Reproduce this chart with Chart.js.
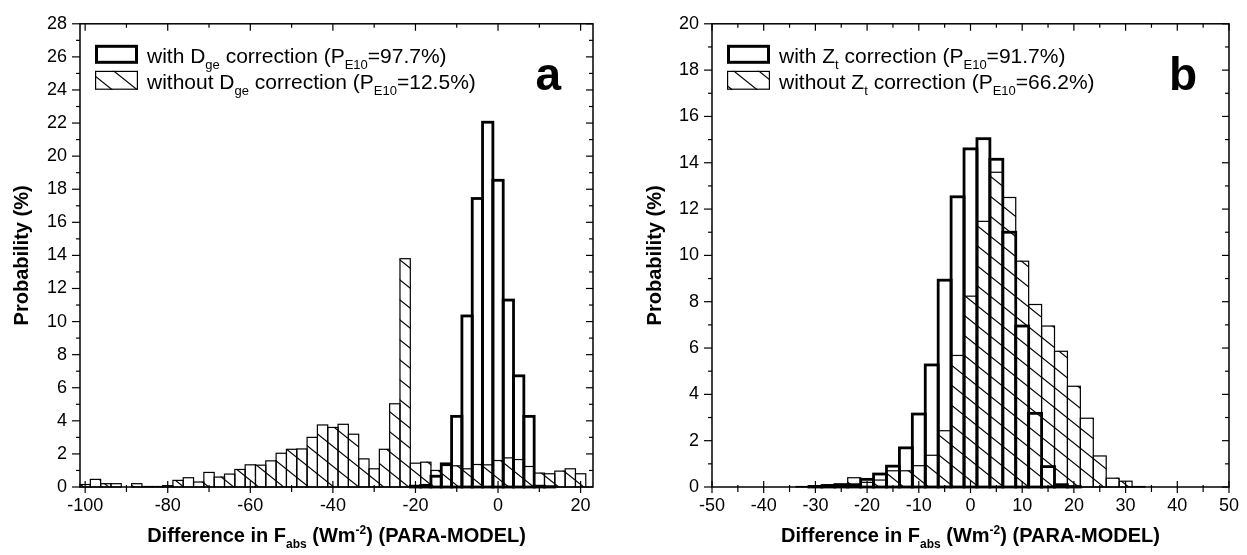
<!DOCTYPE html>
<html>
<head>
<meta charset="utf-8">
<script src="https://cdn.jsdelivr.net/npm/chart.js@4.4.1/dist/chart.umd.min.js"></script>
<style>
  html, body { margin: 0; padding: 0; background: #fff; }
  body { width: 1247px; height: 555px; position: relative; overflow: hidden; }
  .panel { position: absolute; top: 0; height: 555px; }
  #panelA { left: 0; width: 620px; }
  #panelB { left: 620px; width: 627px; }
</style>
</head>
<body>
<div class="panel" id="panelA"><canvas id="chartA"></canvas></div>
<div class="panel" id="panelB"><canvas id="chartB"></canvas></div>
<script>
const FONT = '"Liberation Sans", Arial, Helvetica, sans-serif';

// ---- panel a : bin centres (Wm-2) and probabilities (%)
const binsA = [-100, -97.5, -95, -92.5, -90, -87.5, -85, -82.5, -80, -77.5,
  -75, -72.5, -70, -67.5, -65, -62.5, -60, -57.5, -55, -52.5,
  -50, -47.5, -45, -42.5, -40, -37.5, -35, -32.5, -30, -27.5,
  -25, -22.5, -20, -17.5, -15, -12.5, -10, -7.5, -5, -2.5,
  0, 2.5, 5, 7.5, 10, 12.5, 15, 17.5, 20];
const withDge = [0, 0, 0, 0, 0, 0, 0, 0, 0, 0,
  0, 0, 0, 0, 0, 0, 0, 0, 0, 0,
  0, 0, 0, 0, 0, 0, 0, 0, 0, 0,
  0, 0, 0.05, 0.1, 0.65, 1.4, 4.27, 10.34, 17.44, 22.05,
  18.54, 11.3, 6.72, 4.27, 0.05, 0.02, 0, 0, 0];
const withoutDge = [0.15, 0.46, 0.2, 0.2, 0, 0.2, 0.03, 0.03, 0.08, 0.4,
  0.56, 0.3, 0.88, 0.6, 0.78, 1.06, 1.34, 1.32, 1.58, 2.04,
  2.28, 2.3, 3.0, 3.75, 3.6, 3.79, 3.19, 1.7, 1.1, 2.28,
  5.03, 13.8, 1.44, 1.5, 1.0, 1.3, 1.28, 1.1, 1.36, 1.34,
  1.6, 1.76, 1.66, 1.24, 0.84, 0.8, 0.96, 1.1, 0.8];
const xTicksA = [-100, -80, -60, -40, -20, 0, 20];
const yTicksA = [0, 2, 4, 6, 8, 10, 12, 14, 16, 18, 20, 22, 24, 26, 28];

// ---- panel b
const binsB = [-35, -32.5, -30, -27.5, -25, -22.5, -20, -17.5, -15, -12.5,
  -10, -7.5, -5, -2.5, 0, 2.5, 5, 7.5, 10, 12.5,
  15, 17.5, 20, 22.5, 25, 27.5, 30, 32.5, 35];
const withZt = [0, 0, 0.02, 0.05, 0.1, 0.1, 0.33, 0.56, 0.9, 1.69,
  3.15, 5.27, 8.93, 12.53, 14.6, 15.04, 14.15, 11.0, 6.95, 3.18,
  0.88, 0.1, 0.02, 0, 0, 0, 0, 0, 0];
const withoutZt = [0, 0.02, 0.05, 0.1, 0.12, 0.4, 0.2, 0.3, 0.7, 0.7,
  0.92, 1.37, 2.43, 5.68, 8.24, 11.47, 13.59, 12.5, 9.75, 7.88,
  6.95, 5.86, 4.35, 2.97, 1.34, 0.38, 0.25, 0.02, 0];
const xTicksB = [-50, -40, -30, -20, -10, 0, 10, 20, 30, 40, 50];
const yTicksB = [0, 2, 4, 6, 8, 10, 12, 14, 16, 18, 20];

// diagonal hatch like the "\\\" fill of the original
function hatch(ctx) {
  const w = 25, h = 20;
  const c = document.createElement("canvas");
  c.width = w; c.height = h;
  const g = c.getContext("2d");
  g.fillStyle = "#fff";
  g.fillRect(0, 0, w, h);
  g.strokeStyle = "#000";
  g.lineWidth = 1.2;
  [[0, 0], [w, 0], [-w, 0]].forEach(([dx, dy]) => {
    g.beginPath();
    g.moveTo(dx - w, dy - h);
    g.lineTo(dx + 2 * w, dy + 2 * h);
    g.stroke();
  });
  return ctx.createPattern(c, "repeat");
}

// text with sub (1) / superscript (2) pieces
function drawRich(ctx, x, y, parts, size, bold, align) {
  const font = (m) => (bold ? "bold " : "") + (m ? Math.round(size * 0.6) : size) + "px " + FONT;
  let total = 0;
  parts.forEach(([t, m]) => { ctx.font = font(m); total += ctx.measureText(t).width; });
  let cx = align === "center" ? x - total / 2 : x;
  ctx.textAlign = "left";
  ctx.textBaseline = "alphabetic";
  parts.forEach(([t, m]) => {
    ctx.font = font(m);
    const dy = m === 1 ? size * 0.3 : m === 2 ? -size * 0.42 : 0;
    ctx.fillText(t, cx, y + dy);
    cx += ctx.measureText(t).width;
  });
}

function mids(arr) {
  const out = [];
  for (let i = 1; i < arr.length; i++) out.push((arr[i - 1] + arr[i]) / 2);
  return out;
}

function panelPlugin(opt) {
  return {
    id: "panelDecor",
    afterDatasetsDraw(chart) {
      const ctx = chart.ctx;
      ctx.save();
      ctx.strokeStyle = "#000";
      // hatched outlines first, thick outlines on top
      [[1, 1.2], [0, 2.8]].forEach(([di, lw]) => {
        const meta = chart.getDatasetMeta(di);
        ctx.lineWidth = lw;
        meta.data.forEach((bar, i) => {
          if (!(chart.data.datasets[di].data[i].y > 0)) return;
          const p = bar.getProps(["x", "y", "base", "width"], true);
          ctx.strokeRect(p.x - p.width / 2, p.y, p.width, p.base - p.y);
        });
      });
      ctx.restore();
    },
    afterDraw(chart) {
      const ctx = chart.ctx;
      const a = chart.chartArea;
      const xs = chart.scales.x, ys = chart.scales.y;
      ctx.save();
      ctx.strokeStyle = "#000";
      ctx.fillStyle = "#000";
      ctx.lineWidth = 1.5;
      ctx.strokeRect(a.left, a.top, a.right - a.left, a.bottom - a.top);

      const line = (x1, y1, x2, y2) => {
        ctx.beginPath(); ctx.moveTo(x1, y1); ctx.lineTo(x2, y2); ctx.stroke();
      };
      ctx.lineWidth = 1.2;
      opt.xTicks.forEach(v => {
        const px = xs.getPixelForValue(v);
        line(px, a.bottom - 6, px, a.bottom + 6);
        line(px, a.top, px, a.top + 7);
      });
      mids(opt.xTicks).forEach(v => {
        const px = xs.getPixelForValue(v);
        line(px, a.bottom - 2, px, a.bottom + 5);
        line(px, a.top, px, a.top + 4);
      });
      opt.yTicks.forEach(v => {
        const py = ys.getPixelForValue(v);
        line(a.left - 8, py, a.left, py);
        line(a.right - 7, py, a.right, py);
      });
      mids(opt.yTicks).forEach(v => {
        const py = ys.getPixelForValue(v);
        line(a.left - 4, py, a.left, py);
        line(a.right - 4, py, a.right, py);
      });

      // legend
      const sx = a.left + 15, sw = 43, sh = 19;
      ctx.lineWidth = 3;
      ctx.strokeRect(sx + 1.5, a.top + 22.5, sw - 3, sh - 3);
      ctx.fillStyle = opt.pattern;
      ctx.fillRect(sx, a.top + 47, sw, sh);
      ctx.lineWidth = 1.2;
      ctx.strokeRect(sx + 0.6, a.top + 47.6, sw - 1.2, sh - 1.2);
      ctx.fillStyle = "#000";
      drawRich(ctx, a.left + 67, a.top + 39, opt.legend1, 21, false, "left");
      drawRich(ctx, a.left + 67, a.top + 65, opt.legend2, 21, false, "left");

      // panel letter
      ctx.font = "bold 46px " + FONT;
      ctx.textAlign = "right";
      ctx.textBaseline = "alphabetic";
      ctx.fillText(opt.letter, a.right - 32, a.top + 66);

      // x axis title
      drawRich(ctx, (a.left + a.right) / 2, 542, opt.xTitle, 20, true, "center");
      ctx.restore();
    }
  };
}

const xTitle = [["Difference in F", 0], ["abs", 1], [" (Wm", 0], ["-2", 2], [") (PARA-MODEL)", 0]];

function makeChart(id, bins, withVals, withoutVals, xMin, xMax, xTicks, yMax, yTicks, yWidth, titlePad, rightPad, legend1, legend2, letter) {
  const ctx = document.getElementById(id).getContext("2d");
  const pattern = hatch(ctx);
  return new Chart(ctx, {
    type: "bar",
    data: {
      datasets: [
        {
          label: "with",
          data: bins.map((b, i) => ({ x: b, y: withVals[i] })),
          backgroundColor: "rgba(0,0,0,0)",
          borderWidth: 0,
          grouped: false,
          barPercentage: 1,
          categoryPercentage: 1,
        },
        {
          label: "without",
          data: bins.map((b, i) => ({ x: b, y: withoutVals[i] })),
          backgroundColor: pattern,
          borderWidth: 0,
          grouped: false,
          barPercentage: 1,
          categoryPercentage: 1,
        },
      ],
    },
    options: {
      responsive: true,
      maintainAspectRatio: false,
      animation: false,
      layout: { padding: { top: 16, right: rightPad, left: 0, bottom: 0 } },
      plugins: { legend: { display: false }, tooltip: { enabled: false } },
      scales: {
        x: {
          type: "linear",
          offset: false,
          min: xMin,
          max: xMax,
          grid: { display: false, drawTicks: false },
          border: { display: false },
          afterBuildTicks: (axis) => { axis.ticks = xTicks.map(v => ({ value: v })); },
          afterFit: (scale) => { scale.height = 68; },
          ticks: {
            autoSkip: false,
            maxRotation: 0,
            padding: 8,
            color: "#000",
            font: { family: FONT, size: 18 },
            callback: (v) => String(v),
          },
        },
        y: {
          min: 0,
          max: yMax,
          grid: { display: false, drawTicks: false },
          border: { display: false },
          afterBuildTicks: (axis) => { axis.ticks = yTicks.map(v => ({ value: v })); },
          afterFit: (scale) => { scale.width = yWidth; },
          ticks: {
            autoSkip: false,
            padding: 13,
            color: "#000",
            font: { family: FONT, size: 18 },
            callback: (v) => String(v),
          },
          title: {
            display: true,
            text: "Probability (%)",
            color: "#000",
            font: { family: FONT, size: 20, weight: "bold" },
            padding: { top: titlePad, bottom: 0 },
          },
        },
      },
    },
    plugins: [panelPlugin({ xTicks, yTicks, pattern, legend1, legend2, letter, xTitle })],
  });
}

makeChart("chartA", binsA, withDge, withoutDge, -101.25, 23, xTicksA, 28, yTicksA, 80, 10, 27,
  [["with D", 0], ["ge", 1], [" correction (P", 0], ["E10", 1], ["=97.7%)", 0]],
  [["without D", 0], ["ge", 1], [" correction (P", 0], ["E10", 1], ["=12.5%)", 0]],
  "a");

makeChart("chartB", binsB, withZt, withoutZt, -50, 50, xTicksB, 20, yTicksB, 92, 23, 18,
  [["with Z", 0], ["t", 1], [" correction (P", 0], ["E10", 1], ["=91.7%)", 0]],
  [["without Z", 0], ["t", 1], [" correction (P", 0], ["E10", 1], ["=66.2%)", 0]],
  "b");
</script>
</body>
</html>
